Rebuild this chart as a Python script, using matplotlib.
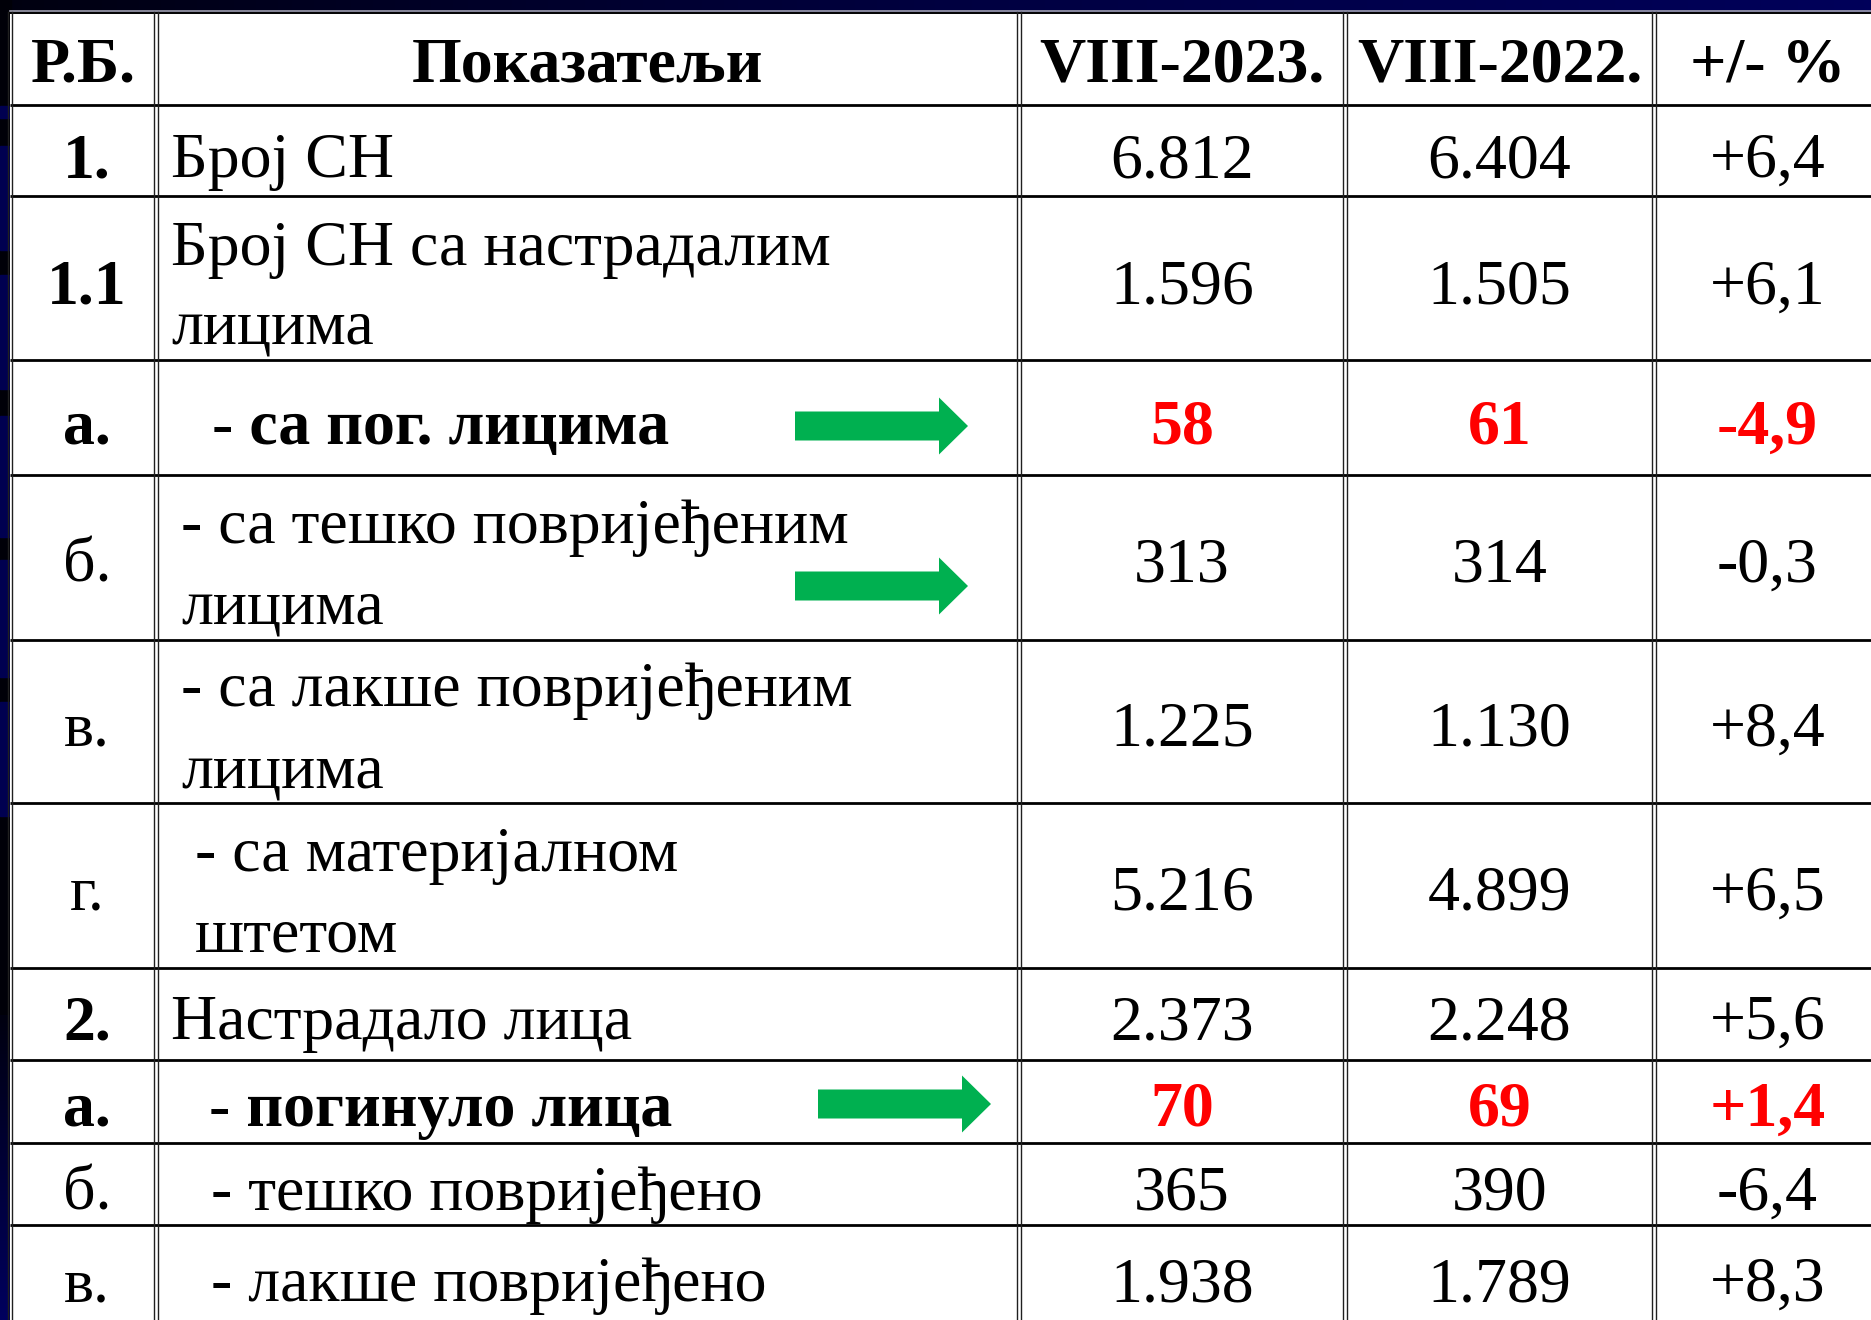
import matplotlib
matplotlib.use("Agg")
import matplotlib.pyplot as plt
import numpy as np
from matplotlib.patches import Rectangle, FancyArrow
from matplotlib.colors import LinearSegmentedColormap

# ---------------- data ----------------
headers = ["Р.Б.", "Показатељи", "VIII-2023.", "VIII-2022.", "+/- %"]
row_nums = ["1.", "1.1", "а.", "б.", "в.", "г.", "2.", "а.", "б.", "в."]
indicators = [
    ["Број СН"],
    ["Број СН са настрадалим", "лицима"],
    ["- са пог. лицима"],
    ["- са тешко повријеђеним", "лицима"],
    ["- са лакше повријеђеним", "лицима"],
    ["- са материјалном", "штетом"],
    ["Настрадало лица"],
    ["- погинуло лица"],
    ["- тешко повријеђено"],
    ["- лакше повријеђено"],
]
values_2023 = ["6.812", "1.596", "58", "313", "1.225", "5.216", "2.373", "70", "365", "1.938"]
values_2022 = ["6.404", "1.505", "61", "314", "1.130", "4.899", "2.248", "69", "390", "1.789"]
pct_change = ["+6,4", "+6,1", "-4,9", "-0,3", "+8,4", "+6,5", "+5,6", "+1,4", "-6,4", "+8,3"]
highlight = [False, False, True, False, False, False, False, True, False, False]
num_bold = [True, True, True, False, False, False, True, True, False, False]
arrow_rows = [2, 3, 7]

# ---------------- layout (pixels) ----------------
W, H = 1871, 1320
row_edges = [12, 105, 196, 360, 475, 640, 803, 968, 1060, 1143, 1225, 1400]
col_edges = [10, 156, 1019, 1345, 1654, 1890]
header_base = 82
value_base = [177, 304, 444, 582, 746, 910, 1039, 1126, 1210, 1301]
text_bases = [[177], [265, 344], [444], [543, 623], [706, 788], [871, 951],
              [1039], [1126], [1210], [1301]]
text_x = [171, 171, 212, 181, 181, 195, 171, 209, 211, 211]
arrow_geom = {2: (795, 968, 426), 3: (795, 968, 586), 7: (818, 991, 1104)}

FS = 46
FONT = "Liberation Serif"
NAVY = "#00005a"

fig = plt.figure(figsize=(W / 100, H / 100), dpi=100, facecolor=NAVY)
ax = fig.add_axes([0, 0, 1, 1])
ax.set_xlim(0, W)
ax.set_ylim(H, 0)
ax.axis("off")

# background: top gradient strip black -> navy
grad = np.linspace(0, 1, 256)[None, :]
cmap = LinearSegmentedColormap.from_list("bg", ["#000010", "#000040", NAVY])
ax.imshow(grad, extent=[0, W, 14, 0], cmap=cmap, aspect="auto", zorder=0)
# left strip: black with navy blocks
ax.add_patch(Rectangle((0, 0), 11, H, color="#000008", zorder=0.5))
for y0, y1 in [(106, 118), (146, 250), (275, 389), (416, 537), (560, 677), (702, 816)]:
    ax.add_patch(Rectangle((0, y0), 11, y1 - y0, color="#000050", zorder=0.6))
lg = np.linspace(0, 1, 256)[:, None]
cmap2 = LinearSegmentedColormap.from_list("bg2", ["#000010", "#00005e"])
ax.imshow(lg, extent=[0, 11, H, 1015], cmap=cmap2, aspect="auto", zorder=0.6)

# table body
ax.add_patch(Rectangle((col_edges[0], row_edges[0]), W + 20 - col_edges[0], H + 50,
                       facecolor="white", edgecolor="none", zorder=1))

# horizontal lines
for i, y in enumerate(row_edges[:-1]):
    if i == 0:
        ax.plot([col_edges[0], W + 5], [y - 1.5, y - 1.5], color="#a0a0b0", lw=1.2, zorder=3)
        ax.plot([col_edges[0], W + 5], [y + 1, y + 1], color="black", lw=1.4, zorder=3)
    else:
        ax.plot([col_edges[0], W + 5], [y, y], color="black", lw=2.0, zorder=3,
                solid_capstyle="butt")

# vertical double lines
for x in col_edges[:-1]:
    for dx in (-1.8, 1.8):
        ax.plot([x + dx, x + dx], [row_edges[0], H + 5], color="#202020", lw=1.0, zorder=3)

# header
c0 = (col_edges[0] + col_edges[1]) / 2 + 4
c1 = (col_edges[1] + col_edges[2]) / 2
c2 = (col_edges[2] + col_edges[3]) / 2
c3 = (col_edges[3] + col_edges[4]) / 2
c4 = (col_edges[4] + W) / 2 + 5
for cx, h in zip((c0 - 4, c1, c2, c3, c4), headers):
    ax.text(cx, header_base, h, fontsize=FS, fontfamily=FONT, fontweight="bold",
            ha="center", va="baseline", color="black", zorder=4)

for i in range(len(row_nums)):
    yb = value_base[i]
    ax.text(c0, yb, row_nums[i], fontsize=FS, fontfamily=FONT,
            fontweight="bold" if num_bold[i] else "normal",
            ha="center", va="baseline", color="black", zorder=4)
    for k, (line, tb) in enumerate(zip(indicators[i], text_bases[i])):
        ax.text(text_x[i], tb, line, fontsize=FS, fontfamily=FONT,
                fontweight="bold" if highlight[i] else "normal",
                ha="left", va="baseline", color="black", zorder=4)
    col = "#ff0000" if highlight[i] else "black"
    wt = "bold" if highlight[i] else "normal"
    for cx, v in ((c2, values_2023[i]), (c3, values_2022[i]), (c4, pct_change[i])):
        ax.text(cx, yb, v, fontsize=FS, fontfamily=FONT, fontweight=wt,
                ha="center", va="baseline", color=col, zorder=4)

# green arrows
for r in arrow_rows:
    x0, x1, yc = arrow_geom[r]
    ax.add_patch(FancyArrow(x0, yc, x1 - x0, 0, width=29, head_width=57,
                            head_length=29, length_includes_head=True,
                            color="#00b050", lw=0, zorder=5))

fig.savefig("out.png", dpi=100, facecolor=NAVY)
